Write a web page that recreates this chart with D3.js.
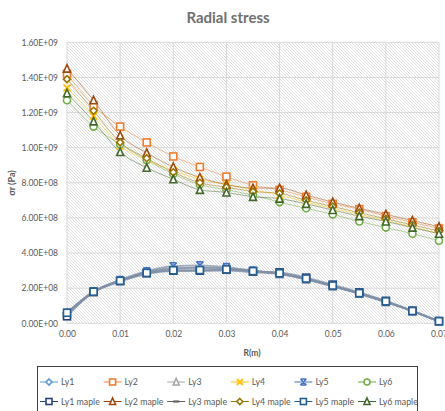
<!DOCTYPE html>
<html><head><meta charset="utf-8">
<script src="https://cdn.jsdelivr.net/npm/d3@7"></script>
<style>body{margin:0;background:#fff;} svg{display:block;font-family:Lato, "Liberation Sans", sans-serif;}</style>
</head><body>
<svg id="c" width="445" height="411"></svg>
<script>
const rValues = [0,0.005,0.01,0.015,0.02,0.025,0.03,0.035,0.04,0.045,0.05,0.055,0.06,0.065,0.07];
const seriesNames = ["Ly1","Ly2","Ly3","Ly4","Ly5","Ly6","Ly1 maple","Ly2 maple","Ly3 maple","Ly4 maple","Ly5 maple","Ly6 maple"];
const ly1 = [0.058,0.180,0.245,0.290,0.310,0.315,0.310,0.298,0.285,0.255,0.214,0.170,0.123,0.070,0.010];
const ly2 = [1.420,1.240,1.120,1.030,0.950,0.890,0.835,0.786,0.760,0.720,0.680,0.650,0.610,0.575,0.540];
const ly3 = [0.055,0.178,0.243,0.292,0.315,0.318,0.312,0.297,0.280,0.250,0.210,0.168,0.120,0.068,0.010];
const ly4 = [1.340,1.180,1.010,0.930,0.870,0.820,0.790,0.760,0.730,0.690,0.655,0.620,0.585,0.550,0.510];
const ly5 = [0.060,0.182,0.247,0.297,0.325,0.330,0.320,0.300,0.282,0.252,0.212,0.169,0.122,0.069,0.011];
const ly6 = [1.270,1.120,1.020,0.930,0.850,0.790,0.760,0.730,0.690,0.655,0.620,0.580,0.545,0.510,0.470];
const ly1Maple = [0.040,0.178,0.240,0.285,0.300,0.300,0.305,0.295,0.290,0.260,0.220,0.176,0.128,0.072,0.013];
const ly2Maple = [1.450,1.270,1.070,0.970,0.890,0.830,0.790,0.770,0.770,0.730,0.690,0.655,0.620,0.585,0.550];
const ly3Maple = [0.050,0.176,0.238,0.280,0.297,0.298,0.300,0.290,0.283,0.250,0.212,0.170,0.123,0.070,0.010];
const ly4Maple = [1.390,1.210,1.030,0.940,0.860,0.800,0.775,0.750,0.740,0.700,0.665,0.630,0.595,0.560,0.525];
const ly5Maple = [0.060,0.180,0.242,0.287,0.302,0.303,0.307,0.297,0.285,0.255,0.215,0.172,0.125,0.070,0.012];
const ly6Maple = [1.310,1.150,0.975,0.886,0.820,0.760,0.745,0.720,0.710,0.680,0.645,0.610,0.580,0.545,0.510];
const yTicks = [0,0.2e9,0.4e9,0.6e9,0.8e9,1.0e9,1.2e9,1.4e9,1.6e9];
const yTickLabels = ["0.00E+00","2.00E+08","4.00E+08","6.00E+08","8.00E+08","1.00E+09","1.20E+09","1.40E+09","1.60E+09"];
const xTicks = [0,0.01,0.02,0.03,0.04,0.05,0.06,0.07];
const xTickLabels = ["0.00","0.01","0.02","0.03","0.04","0.05","0.06","0.07"];
const seriesData = [ly1,ly2,ly3,ly4,ly5,ly6,ly1Maple,ly2Maple,ly3Maple,ly4Maple,ly5Maple,ly6Maple];
const colors = ["#5b9bd5","#ed7d31","#a5a5a5","#ffc000","#4472c4","#70ad47","#264478","#9e480e","#636363","#997300","#255e91","#43682b"];
const markers = ["diamond","square","triangle","x","star","circle","square","triangle","dash","diamond","square","triangle"];

const svg = d3.select("#c");
const L = 67, R = 439, T = 42.3, B = 323.3;
const x = d3.scaleLinear().domain([0,0.07]).range([L,R]);
const y = d3.scaleLinear().domain([0,1.6e9]).range([B,T]);

const defs = svg.append("defs");
const pat = defs.append("pattern").attr("id","hatch").attr("patternUnits","userSpaceOnUse")
  .attr("width",3).attr("height",3);
pat.append("rect").attr("width",3).attr("height",3).attr("fill","#fff");
pat.append("path").attr("d","M-1,-1 L4,4 M-1,2 L1,4 M2,-1 L4,1").attr("stroke","#d9d9d9").attr("stroke-width",0.8);

svg.append("rect").attr("x",L).attr("y",T).attr("width",R-L).attr("height",B-T).attr("fill","url(#hatch)");

// grid
svg.append("g").selectAll("line").data(yTicks).join("line")
  .attr("x1",L).attr("x2",R).attr("y1",d=>y(d)).attr("y2",d=>y(d))
  .attr("stroke","#d9d9d9").attr("stroke-width",1);
svg.append("g").selectAll("line").data(xTicks).join("line")
  .attr("x1",d=>x(d)).attr("x2",d=>x(d)).attr("y1",T).attr("y2",B)
  .attr("stroke","#d9d9d9").attr("stroke-width",1);

// axes labels via d3 axes
const yAxis = d3.axisLeft(y).tickValues(yTicks).tickFormat((d,i)=>yTickLabels[i]).tickSize(0).tickPadding(9);
const gy = svg.append("g").attr("transform",`translate(${L},0)`).call(yAxis);
gy.select(".domain").remove();
gy.selectAll("text").attr("fill","#595959").attr("font-size","8.5px").attr("font-family","Lato, sans-serif");
const xAxis = d3.axisBottom(x).tickValues(xTicks).tickFormat((d,i)=>xTickLabels[i]).tickSize(0).tickPadding(8);
const gx = svg.append("g").attr("transform",`translate(0,${B})`).call(xAxis);
gx.select(".domain").remove();
gx.selectAll("text").attr("fill","#595959").attr("font-size","8.5px").attr("font-family","Lato, sans-serif");

// title
svg.append("text").attr("x",228).attr("y",23).attr("text-anchor","middle")
  .attr("fill","#6f6f6f").attr("font-size","15px").attr("font-weight","bold").text("Radial stress");
svg.append("text").attr("x",252).attr("y",356).attr("text-anchor","middle")
  .attr("fill","#595959").attr("font-size","8.5px").attr("font-weight","bold").text("R(m)");
svg.append("text").attr("transform","translate(15,183) rotate(-90)").attr("text-anchor","middle")
  .attr("fill","#595959").attr("font-size","9px").attr("font-weight","bold").text("σr (Pa)");

function drawMarker(g, type, color, cx, cy, s){
  const h = s/2;
  if(type==="square") g.append("rect").attr("x",cx-h).attr("y",cy-h).attr("width",s).attr("height",s)
      .attr("fill","#fff").attr("stroke",color).attr("stroke-width",1.6);
  else if(type==="triangle") g.append("path").attr("d",`M${cx},${cy-h-0.5}L${cx+h},${cy+h}L${cx-h},${cy+h}Z`)
      .attr("fill","#fff").attr("stroke",color).attr("stroke-width",1.6);
  else if(type==="diamond") g.append("path").attr("d",`M${cx},${cy-h}L${cx+h},${cy}L${cx},${cy+h}L${cx-h},${cy}Z`)
      .attr("fill","#fff").attr("stroke",color).attr("stroke-width",1.6);
  else if(type==="circle") g.append("circle").attr("cx",cx).attr("cy",cy).attr("r",h)
      .attr("fill","#fff").attr("stroke",color).attr("stroke-width",1.6);
  else if(type==="x") g.append("path").attr("d",`M${cx-h},${cy-h}L${cx+h},${cy+h}M${cx+h},${cy-h}L${cx-h},${cy+h}`)
      .attr("stroke",color).attr("stroke-width",1.8);
  else if(type==="star") g.append("path").attr("d",`M${cx-h},${cy-h}L${cx+h},${cy+h}M${cx+h},${cy-h}L${cx-h},${cy+h}M${cx-h},${cy-h}L${cx+h},${cy-h}M${cx-h},${cy+h}L${cx+h},${cy+h}`)
      .attr("stroke",color).attr("stroke-width",1.5);
  else if(type==="dash") g.append("path").attr("d",`M${cx-h},${cy}L${cx+h},${cy}`)
      .attr("stroke",color).attr("stroke-width",2.2);
}

const line = d3.line().x((d,i)=>x(rValues[i])).y(d=>y(d*1e9)).curve(d3.curveMonotoneX);
const plot = svg.append("g");
seriesData.forEach((vals,k)=>{
  const lower = vals[5] < 0.5;
  plot.append("path").attr("d",line(vals)).attr("fill","none")
    .attr("stroke", lower ? "#7f8fa6" : colors[k])
    .attr("stroke-opacity", lower ? 0.7 : 0.5)
    .attr("stroke-width", lower ? 1.8 : 1);
});
seriesData.forEach((vals,k)=>{
  const g = plot.append("g");
  vals.forEach((v,i)=>drawMarker(g, markers[k], colors[k], x(rValues[i]), y(v*1e9), 7));
});

// legend
const lg = svg.append("g");
lg.append("rect").attr("x",37.5).attr("y",366.5).attr("width",380).attr("height",46)
  .attr("fill","#fff").attr("stroke","#404040").attr("stroke-width",1);
seriesNames.forEach((name,k)=>{
  const col = k%6, row = Math.floor(k/6);
  const sx = 49 + col*63.6, sy = 382 + row*19.5;
  lg.append("line").attr("x1",sx-9).attr("x2",sx+9).attr("y1",sy).attr("y2",sy)
    .attr("stroke",colors[k]).attr("stroke-width",1);
  drawMarker(lg, markers[k], colors[k], sx, sy, 6);
  lg.append("text").attr("x",sx+12).attr("y",sy+3).attr("font-size","8.8px").attr("fill","#595959").text(name);
});
</script>
</body></html>
